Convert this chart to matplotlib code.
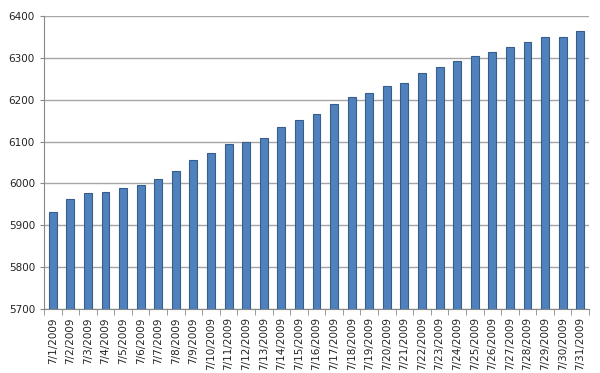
import matplotlib.pyplot as plt
import numpy as np

# daily values for July 2009
dates = ['7/%d/2009' % d for d in range(1, 32)]
values = [5932, 5963, 5977, 5980, 5990, 5997, 6010, 6030, 6055, 6073,
          6094, 6099, 6109, 6136, 6152, 6167, 6189, 6207, 6217, 6232,
          6240, 6264, 6278, 6292, 6304, 6314, 6325, 6339, 6349, 6351, 6364]
yticks = [5700, 5800, 5900, 6000, 6100, 6200, 6300, 6400]

fig = plt.figure(figsize=(6, 3.73), dpi=100)
ax = fig.add_axes([44 / 600, 1 - 309 / 373, 545 / 600, 293 / 373])

x = np.arange(len(dates))
ax.bar(x, values, width=0.45, bottom=0, color='#4f81bd',
       edgecolor='#385d8a', linewidth=0.8, zorder=3)

ax.set_ylim(5700, 6400)
ax.set_xlim(-0.5, len(dates) - 0.5)
ax.set_yticks(yticks)
ax.set_yticklabels([str(v) for v in yticks], fontsize=7.5, color='#222222')
ax.set_xticks(x)
ax.set_xticklabels(dates, rotation=90, fontsize=7.5, color='#222222')
ax.tick_params(axis='x', length=0, pad=6)
ax.tick_params(axis='y', length=3, color='#888888')
ax.set_xticks(np.arange(-0.5, len(dates), 1), minor=True)
ax.tick_params(axis='x', which='minor', length=4, color='#888888')

ax.grid(axis='y', color='#a6a6a6', linewidth=1.0, zorder=0)
for side in ['top', 'right']:
    ax.spines[side].set_visible(False)
ax.spines['left'].set_color('#888888')
ax.spines['bottom'].set_color('#888888')

plt.savefig('out.png', dpi=100)
